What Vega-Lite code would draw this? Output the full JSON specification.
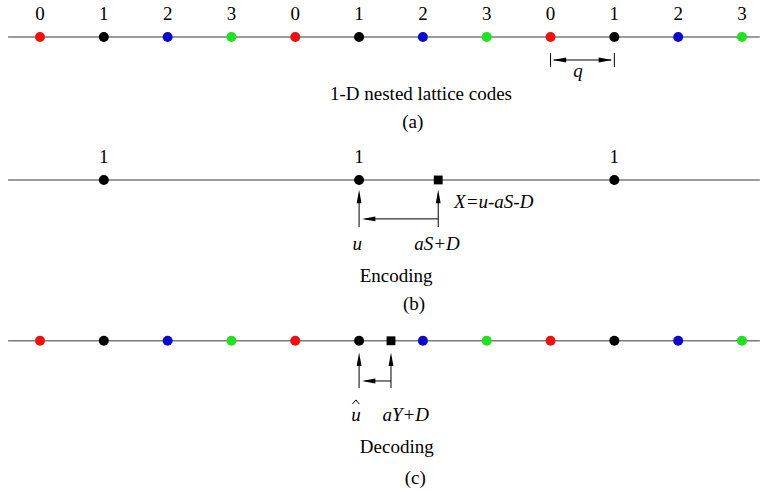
{
  "$schema": "https://vega.github.io/schema/vega-lite/v6.json",
  "width": 764,
  "height": 491,
  "autosize": {"type": "fit", "contains": "padding"},
  "padding": 0,
  "background": "white",
  "config": {"view": {"stroke": null}},
  "datasets": {
    "lines": [
      {"x": -0.5, "x2": 11.28, "y": 0.58},
      {"x": -0.5, "x2": 11.28, "y": 2.82},
      {"x": -0.5, "x2": 11.28, "y": 5.34}
    ],
    "shafts": [
      {"x": 8, "x2": 8, "y": 0.83, "y2": 1.05},
      {"x": 9, "x2": 9, "y": 0.83, "y2": 1.05},
      {"x": 8.05, "x2": 8.95, "y": 0.94, "y2": 0.94},
      {"x": 5, "x2": 5, "y": 3.08, "y2": 3.557},
      {"x": 6.24, "x2": 6.24, "y": 3.08, "y2": 3.557},
      {"x": 5.1, "x2": 6.24, "y": 3.43, "y2": 3.43},
      {"x": 5, "x2": 5, "y": 5.63, "y2": 6.08},
      {"x": 5.5, "x2": 5.5, "y": 5.63, "y2": 6.08},
      {"x": 5.1, "x2": 5.5, "y": 5.97, "y2": 5.97}
    ],
    "heads": [
      {"x": 8.14, "y": 0.94, "angle": 270},
      {"x": 8.86, "y": 0.94, "angle": 90},
      {"x": 5, "y": 3.08, "angle": 0},
      {"x": 6.24, "y": 3.08, "angle": 0},
      {"x": 5.15, "y": 3.43, "angle": 270},
      {"x": 5, "y": 5.63, "angle": 0},
      {"x": 5.5, "y": 5.63, "angle": 0},
      {"x": 5.15, "y": 5.97, "angle": 270}
    ],
    "dots": [
      {"x": 0, "y": 0.58, "coset": "0"}, {"x": 1, "y": 0.58, "coset": "1"},
      {"x": 2, "y": 0.58, "coset": "2"}, {"x": 3, "y": 0.58, "coset": "3"},
      {"x": 4, "y": 0.58, "coset": "0"}, {"x": 5, "y": 0.58, "coset": "1"},
      {"x": 6, "y": 0.58, "coset": "2"}, {"x": 7, "y": 0.58, "coset": "3"},
      {"x": 8, "y": 0.58, "coset": "0"}, {"x": 9, "y": 0.58, "coset": "1"},
      {"x": 10, "y": 0.58, "coset": "2"}, {"x": 11, "y": 0.58, "coset": "3"},
      {"x": 1, "y": 2.82, "coset": "1"}, {"x": 5, "y": 2.82, "coset": "1"},
      {"x": 9, "y": 2.82, "coset": "1"},
      {"x": 0, "y": 5.34, "coset": "0"}, {"x": 1, "y": 5.34, "coset": "1"},
      {"x": 2, "y": 5.34, "coset": "2"}, {"x": 3, "y": 5.34, "coset": "3"},
      {"x": 4, "y": 5.34, "coset": "0"}, {"x": 5, "y": 5.34, "coset": "1"},
      {"x": 6, "y": 5.34, "coset": "2"}, {"x": 7, "y": 5.34, "coset": "3"},
      {"x": 8, "y": 5.34, "coset": "0"}, {"x": 9, "y": 5.34, "coset": "1"},
      {"x": 10, "y": 5.34, "coset": "2"}, {"x": 11, "y": 5.34, "coset": "3"}
    ],
    "signals": [
      {"x": 6.24, "y": 2.82},
      {"x": 5.5, "y": 5.34}
    ],
    "hats": [
      {"x": 4.95, "y": 6.3}
    ],
    "upright": [
      {"x": 0, "y": 0.313, "text": "0"}, {"x": 1, "y": 0.313, "text": "1"},
      {"x": 2, "y": 0.313, "text": "2"}, {"x": 3, "y": 0.313, "text": "3"},
      {"x": 4, "y": 0.313, "text": "0"}, {"x": 5, "y": 0.313, "text": "1"},
      {"x": 6, "y": 0.313, "text": "2"}, {"x": 7, "y": 0.313, "text": "3"},
      {"x": 8, "y": 0.313, "text": "0"}, {"x": 9, "y": 0.313, "text": "1"},
      {"x": 10, "y": 0.313, "text": "2"}, {"x": 11, "y": 0.313, "text": "3"},
      {"x": 1, "y": 2.554, "text": "1"}, {"x": 5, "y": 2.554, "text": "1"},
      {"x": 9, "y": 2.554, "text": "1"},
      {"x": 5.97, "y": 1.567, "text": "1-D nested lattice codes"},
      {"x": 5.84, "y": 2.006, "text": "(a)"},
      {"x": 5.58, "y": 4.419, "text": "Encoding"},
      {"x": 5.86, "y": 4.857, "text": "(b)"},
      {"x": 5.59, "y": 7.098, "text": "Decoding"},
      {"x": 5.88, "y": 7.584, "text": "(c)"}
    ],
    "italic": [
      {"x": 8.43, "y": 1.21, "text": "q"},
      {"x": 7.11, "y": 3.26, "text": "X=u-aS-D"},
      {"x": 4.97, "y": 3.917, "text": "u"},
      {"x": 6.22, "y": 3.917, "text": "aS+D"},
      {"x": 4.95, "y": 6.59, "text": "u"},
      {"x": 5.73, "y": 6.59, "text": "aY+D"}
    ]
  },
  "encoding": {
    "x": {"field": "x", "type": "quantitative", "axis": null,
          "scale": {"domain": [-0.627, 11.345], "nice": false, "zero": false}},
    "y": {"field": "y", "type": "quantitative", "axis": null,
          "scale": {"domain": [0, 7.694], "nice": false, "zero": false, "reverse": true}}
  },
  "layer": [
    {
      "data": {"name": "lines"},
      "mark": {"type": "rule", "color": "#7a7a7a", "strokeWidth": 1.6},
      "encoding": {"x2": {"field": "x2"}}
    },
    {
      "data": {"name": "shafts"},
      "mark": {"type": "rule", "color": "#000000", "strokeWidth": 1},
      "encoding": {"x2": {"field": "x2"}, "y2": {"field": "y2"}}
    },
    {
      "data": {"name": "heads"},
      "mark": {"type": "point", "filled": true, "opacity": 1, "color": "#000000",
               "shape": "M0,-1L0.36,1L-0.36,1Z", "size": 180, "strokeWidth": 0},
      "encoding": {"angle": {"field": "angle", "type": "quantitative", "scale": null}}
    },
    {
      "data": {"name": "dots"},
      "mark": {"type": "point", "filled": true, "opacity": 1, "shape": "circle", "size": 100, "strokeWidth": 0},
      "encoding": {
        "color": {"field": "coset", "type": "nominal", "legend": null,
                  "scale": {"domain": ["0", "1", "2", "3"],
                            "range": ["#ee1111", "#000000", "#0a0ac8", "#22e022"]}}
      }
    },
    {
      "data": {"name": "signals"},
      "mark": {"type": "point", "filled": true, "opacity": 1, "shape": "square", "size": 78, "color": "#000000", "strokeWidth": 0}
    },
    {
      "data": {"name": "hats"},
      "mark": {"type": "point", "filled": false, "opacity": 1, "color": "#000000",
               "shape": "M-1,0.6L0,-0.6L1,0.6", "size": 50, "strokeWidth": 1}
    },
    {
      "data": {"name": "upright"},
      "mark": {"type": "text", "font": "'Liberation Serif', 'Times New Roman', 'DejaVu Serif', serif", "fontSize": 19, "align": "center", "baseline": "alphabetic", "color": "#000000"},
      "encoding": {"text": {"field": "text"}}
    },
    {
      "data": {"name": "italic"},
      "mark": {"type": "text", "font": "'Liberation Serif', 'Times New Roman', 'DejaVu Serif', serif", "fontSize": 19, "fontStyle": "italic", "align": "center", "baseline": "alphabetic", "color": "#000000"},
      "encoding": {"text": {"field": "text"}}
    }
  ]
}
